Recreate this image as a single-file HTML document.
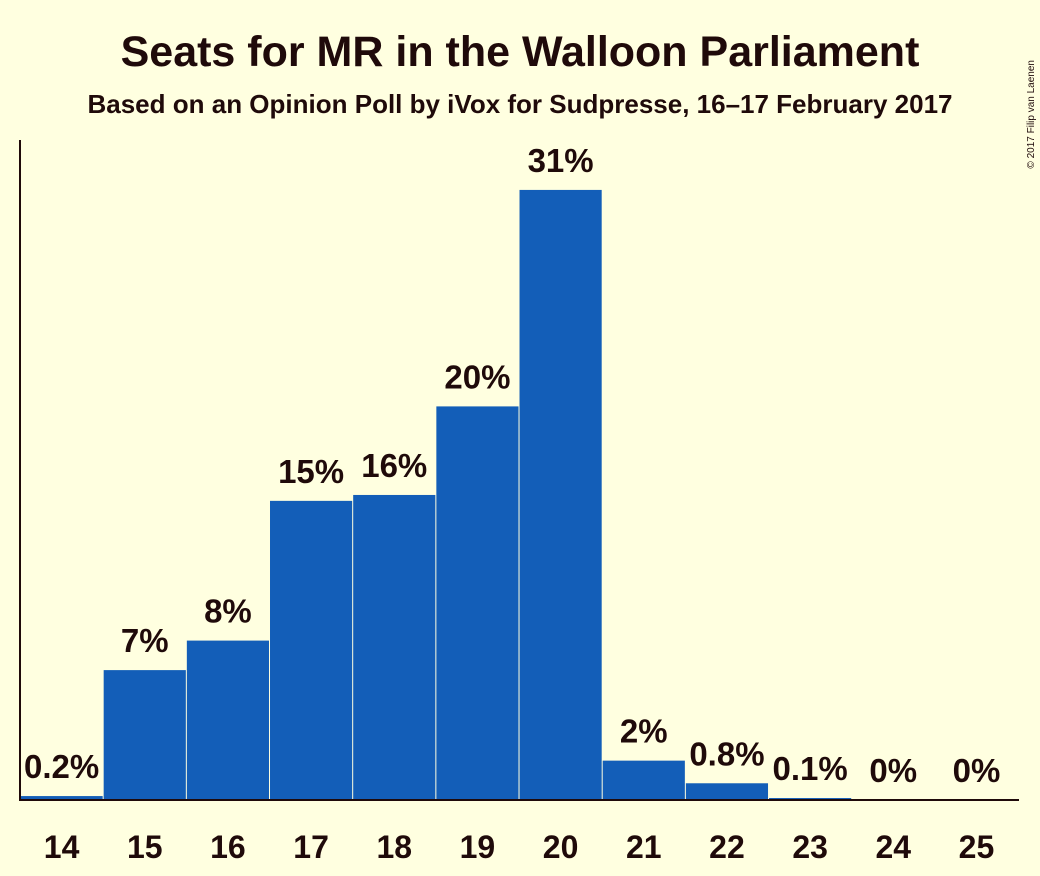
<!DOCTYPE html>
<html><head><meta charset="utf-8"><style>
body{margin:0;background:#ffffe0;}
svg{display:block;font-family:"Liberation Sans",sans-serif;}
</style></head><body>
<svg width="1040" height="876" viewBox="0 0 1040 876">
<rect width="1040" height="876" fill="#ffffe0"/>
<text x="520" y="66" text-anchor="middle" font-size="43" font-weight="bold" fill="#1f0a0a">Seats for MR in the Walloon Parliament</text>
<text x="520" y="113" text-anchor="middle" font-size="26" font-weight="bold" fill="#1f0a0a">Based on an Opinion Poll by iVox for Sudpresse, 16–17 February 2017</text>
<text transform="translate(1034,60) rotate(-90)" text-anchor="end" font-size="10" fill="#1f0a0a">© 2017 Filip van Laenen</text>
<g id="bars"></g>
<line x1="20" y1="140" x2="20" y2="800" stroke="#1f0a0a" stroke-width="2"/>
<line x1="19" y1="800" x2="1019" y2="800" stroke="#1f0a0a" stroke-width="2"/>
</svg>
<script>
const categories = ["14","15","16","17","18","19","20","21","22","23","24","25"];
const values = [0.2,6.6,8.1,15.2,15.5,20.0,31.0,2.0,0.85,0.1,0,0];
const valueLabels = ["0.2%","7%","8%","15%","16%","20%","31%","2%","0.8%","0.1%","0%","0%"];
const x0=20, bw=83.17, baseY=800, pxPer=19.68;
const xPos=i=>x0+i*bw;
const yPos=v=>baseY-v*pxPer;
const g=document.getElementById('bars');
const ns='http://www.w3.org/2000/svg';
categories.forEach((c,i)=>{
  const v=values[i];
  if(v>0){
    const r=document.createElementNS(ns,'rect');
    
    
    r.setAttribute('x',xPos(i)+0.5);
    r.setAttribute('y',yPos(v));
    r.setAttribute('width',bw-1);
    r.setAttribute('height',baseY-yPos(v));
    r.setAttribute('fill','#135eb8');
    g.appendChild(r);
  }
  const t=document.createElementNS(ns,'text');
  
  
  t.setAttribute('x',xPos(i)+bw/2);
  t.setAttribute('y',yPos(v)-18);
  t.setAttribute('text-anchor','middle');
  t.setAttribute('font-size','33');
  t.setAttribute('font-weight','bold');
  t.setAttribute('fill','#1f0a0a');
  t.textContent=valueLabels[i];
  g.appendChild(t);
  const k=document.createElementNS(ns,'text');
  
  
  k.setAttribute('x',xPos(i)+bw/2);
  k.setAttribute('y',858);
  k.setAttribute('text-anchor','middle');
  k.setAttribute('font-size','32');
  k.setAttribute('font-weight','bold');
  k.setAttribute('fill','#1f0a0a');
  k.textContent=c;
  g.appendChild(k);
});
</script>
</body></html>
